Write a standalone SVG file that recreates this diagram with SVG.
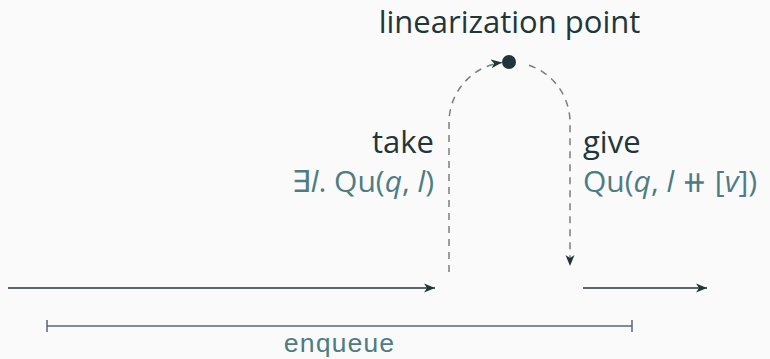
<svg xmlns="http://www.w3.org/2000/svg" width="770" height="359" viewBox="0 0 770 359">
<defs>
<style>
.lbl{font-family:"Open Sans","Noto Sans",sans-serif;font-size:31px;fill:#22363a}
.math{font-family:"Open Sans","Noto Sans","DejaVu Sans",sans-serif;font-size:30px;fill:#4d7c84}
.it{font-style:italic}
.mono{font-family:"Liberation Mono","DejaVu Sans Mono",monospace;font-size:26.5px;fill:#4d7c84}
.dash{fill:none;stroke:#7a7f80;stroke-width:1.5;stroke-dasharray:7 6}
.solid{fill:none;stroke:#22363a;stroke-width:1.5}
.brk{fill:none;stroke:#55696c;stroke-width:1.5}
</style>
<marker id="ah" markerUnits="userSpaceOnUse" markerWidth="12" markerHeight="10" refX="11" refY="5" orient="auto" viewBox="0 0 12 10">
<path d="M0,0.5 L11,5 L0,9.5 L3,5 z" fill="#22363a"/>
</marker>
</defs>
<rect width="770" height="359" fill="#fafafa"/>
<g id="connectors">
<path class="solid" d="M8,288 H435" marker-end="url(#ah)"/>
<path class="solid" d="M583,288 H707" marker-end="url(#ah)"/>
<path class="dash" d="M449,272 V122.5 A60.5,60.5 0 0 1 502,62.5" marker-end="url(#ah)"/>
<path class="dash" d="M529,65.2 A60.5,60.5 0 0 1 570,122.5 V266" marker-end="url(#ah)"/>
<path class="brk" d="M47,326 H632 M47,320 V332 M632,320 V332"/>
</g>
<g id="point">
<circle cx="509" cy="62" r="7" fill="#22363a"/>
<text class="lbl" x="509.5" y="33" text-anchor="middle">linearization point</text>
</g>
<g id="take">
<text class="lbl" x="434" y="153" text-anchor="end">take</text>
<text class="math" x="434" y="192" text-anchor="end">∃<tspan class="it">l</tspan>. Qu(<tspan class="it">q</tspan>, <tspan class="it">l</tspan>)</text>
</g>
<g id="give">
<text class="lbl" x="583" y="153">give</text>
<text class="math" x="583" y="192">Qu(<tspan class="it">q</tspan>, <tspan class="it">l</tspan> ⧺ [<tspan class="it">v</tspan>])</text>
</g>
<g id="enqueue">
<text class="mono" x="339" y="352" text-anchor="middle">enqueue</text>
</g>
</svg>
